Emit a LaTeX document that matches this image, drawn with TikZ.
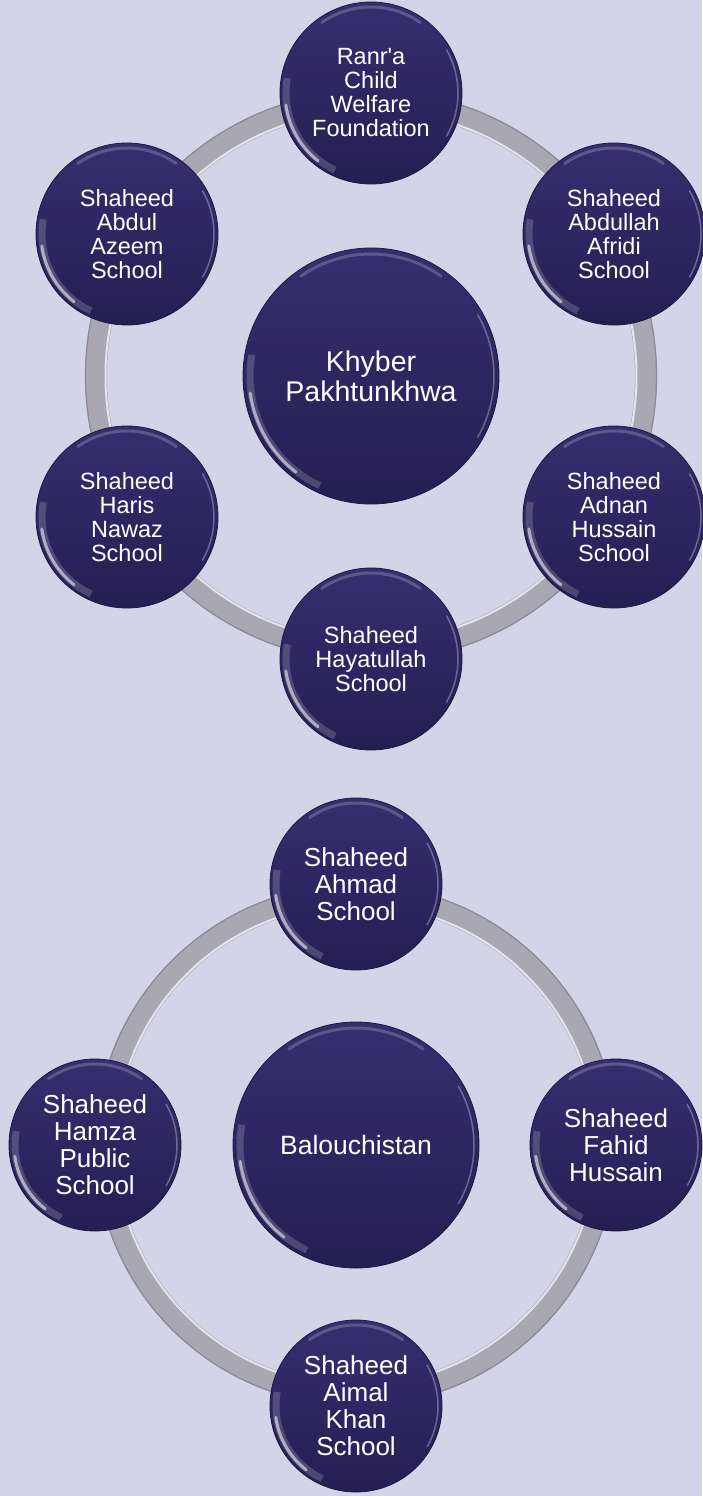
\documentclass[tikz,border=0pt]{standalone}
\usepackage{fontspec}
\setmainfont{Liberation Sans}
\newcommand\straightquote{\XeTeXglyph\XeTeXglyphindex "quotesingle"\relax}
\definecolor{bg}{RGB}{211,212,232}
\definecolor{ballA}{RGB}{55,46,112}
\definecolor{ballB}{RGB}{37,30,82}
\definecolor{ballE}{RGB}{30,24,66}
\definecolor{ringc}{RGB}{168,167,179}
\definecolor{ringhi}{RGB}{228,228,238}
\definecolor{ringlo}{RGB}{138,137,150}
\newcommand\mybevel[1]{%
  \draw[white, opacity=.18, line width=7]
    ([shift={(115:#1)}]path picture bounding box.center)
    arc[start angle=115, end angle=190, radius=#1];
  \draw[white, opacity=.55, line width=3, line cap=round]
    ([shift={(128:#1+1)}]path picture bounding box.center)
    arc[start angle=128, end angle=172, radius=#1+1];
  \draw[white, opacity=.2, line width=3, line cap=round]
    ([shift={(235:#1+1)}]path picture bounding box.center)
    arc[start angle=235, end angle=305, radius=#1+1];
  \draw[ringhi, opacity=.35, line width=1.5]
    ([shift={(330:#1+2)}]path picture bounding box.center)
    arc[start angle=330, end angle=390, radius=#1+2];
}
\tikzset{
  ball/.style={circle, inner sep=0, draw=ballE, line width=0.8,
    top color=ballA, bottom color=ballB, text=white, align=center},
  satA/.style={ball, minimum size=182, font=\fontsize{23.5}{24}\selectfont,
    path picture={\mybevel{85}}},
  hubA/.style={ball, minimum size=256, font=\fontsize{28.5}{30}\selectfont,
    path picture={\mybevel{121}}},
  satB/.style={ball, minimum size=172, font=\fontsize{26}{27}\selectfont,
    path picture={\mybevel{80}}},
  hubB/.style={ball, minimum size=246, font=\fontsize{26.5}{28}\selectfont,
    path picture={\mybevel{116}}},
  ringbase/.style={ringc, line width=22},
  ringlight/.style={ringhi, line width=2},
  ringdark/.style={ringlo, line width=1.2},
}
\begin{document}
\begin{tikzpicture}[x=1pt,y=-1pt]
\useasboundingbox[fill=bg] (0,0) rectangle (702,1496);

% ---- Khyber Pakhtunkhwa ----
\coordinate (cA) at (371,376);
\draw[ringbase] (cA) circle[radius=275];
\draw[ringdark] (cA) circle[radius=285.5];
\draw[ringlight] (cA) circle[radius=265.5];

\node[hubA] (kp) at (cA) {Khyber\\Pakhtunkhwa};
\node[satA] (k1) at (371,93)  {Ranr\straightquote a\\Child\\Welfare\\Foundation};
\node[satA] (k2) at (614,234) {Shaheed\\Abdullah\\Afridi\\School};
\node[satA] (k3) at (614,517) {Shaheed\\Adnan\\Hussain\\School};
\node[satA] (k4) at (371,659) {Shaheed\\Hayatullah\\School};
\node[satA] (k5) at (127,517) {Shaheed\\Haris\\Nawaz\\School};
\node[satA] (k6) at (127,234) {Shaheed\\Abdul\\Azeem\\School};

% ---- Balouchistan ----
\coordinate (cB) at (356,1145);
\draw[ringbase] (cB) circle[radius=250];
\draw[ringdark] (cB) circle[radius=260.5];
\draw[ringlight] (cB) circle[radius=240.5];

\node[hubB] (bl) at (cB) {Balouchistan};
\node[satB] (b1) at (356,884)  {Shaheed\\Ahmad\\School};
\node[satB] (b2) at (616,1145) {Shaheed\\Fahid\\Hussain};
\node[satB] (b3) at (356,1406) {Shaheed\\Aimal\\Khan\\School};
\node[satB] (b4) at (95,1145)  {Shaheed\\Hamza\\Public\\School};
\end{tikzpicture}
\end{document}
